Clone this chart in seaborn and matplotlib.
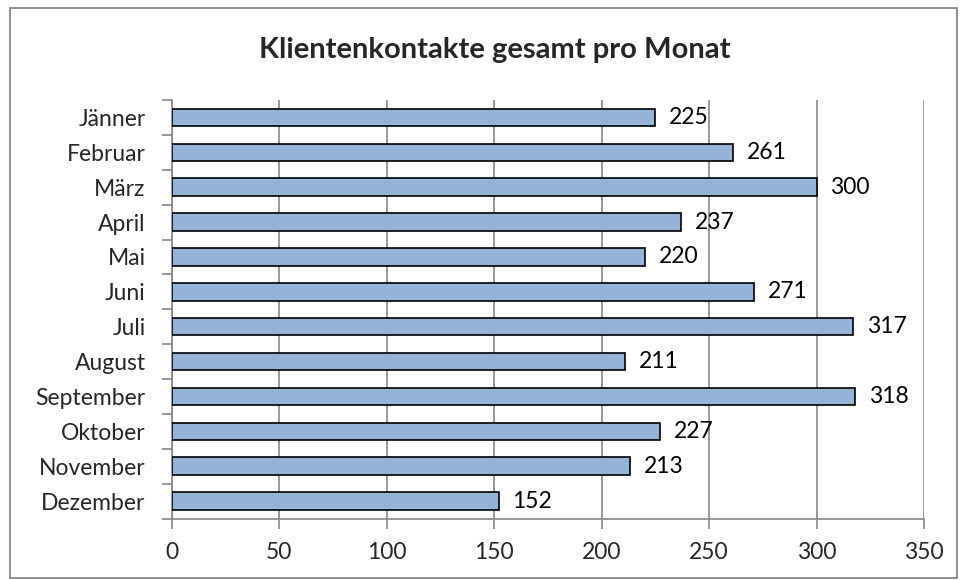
import numpy as np
import pandas as pd
import matplotlib
matplotlib.use("Agg")
import matplotlib.pyplot as plt
import seaborn as sns
from matplotlib.patches import Rectangle

# ---------------- Data ----------------
months = ["Jänner", "Februar", "März", "April", "Mai", "Juni", "Juli",
          "August", "September", "Oktober", "November", "Dezember"]
contacts = [225, 261, 300, 237, 220, 271, 317, 211, 318, 227, 213, 152]
x_ticks = [0, 50, 100, 150, 200, 250, 300, 350]

df = pd.DataFrame({"Monat": months, "Kontakte": contacts})

# ---------------- Style ----------------
sns.set_theme(style="white")
plt.rcParams["font.family"] = ["Lato", "DejaVu Sans"]
grid_grey = "#868686"
label_size = 16.5

fig = plt.figure(figsize=(9.6, 5.8), dpi=100)
ax = fig.add_axes([0.1792, 0.106, 0.7833, 0.7216])

sns.barplot(data=df, x="Kontakte", y="Monat", orient="h", color="#95B3D7",
            edgecolor="black", linewidth=1.2, width=0.5, saturation=1, ax=ax,
            zorder=3)

# value labels at the end of each bar
ax.bar_label(ax.containers[0], labels=[str(v) for v in contacts],
             padding=10, fontsize=label_size, color="black")

# ---------------- Axes ----------------
ax.set_xlim(0, 350)
ax.set_xticks(x_ticks)
ax.set_xticklabels([str(t) for t in x_ticks], fontsize=label_size)
ax.set_ylim(11.5, -0.5)
ax.set_yticks(range(len(months)))
ax.set_yticklabels(months, fontsize=label_size)
ax.set_yticks(np.arange(-0.5, 12, 1), minor=True)
ax.set_xlabel("")
ax.set_ylabel("")

ax.tick_params(axis="y", which="major", length=0, pad=19)
ax.tick_params(axis="y", which="minor", left=True, length=7, width=1.2,
               color=grid_grey)
ax.tick_params(axis="x", which="major", bottom=True, length=7, width=1.2,
               color=grid_grey, pad=10)

ax.xaxis.grid(True, color=grid_grey, linewidth=1.2, zorder=0)
ax.yaxis.grid(False)
ax.set_axisbelow(True)

for side in ["top", "right"]:
    ax.spines[side].set_visible(False)
for side in ["left", "bottom"]:
    ax.spines[side].set_color(grid_grey)
    ax.spines[side].set_linewidth(1.2)

# ---------------- Title and frame ----------------
fig.text(0.515, 0.914, "Klientenkontakte gesamt pro Monat",
         ha="center", va="center", fontsize=21, fontweight="bold")

fig.patches.append(Rectangle((0.0104, 0.004), 0.986, 0.982,
                             transform=fig.transFigure, fill=False,
                             edgecolor=grid_grey, linewidth=1.3))

fig.savefig("out.png", dpi=100)
